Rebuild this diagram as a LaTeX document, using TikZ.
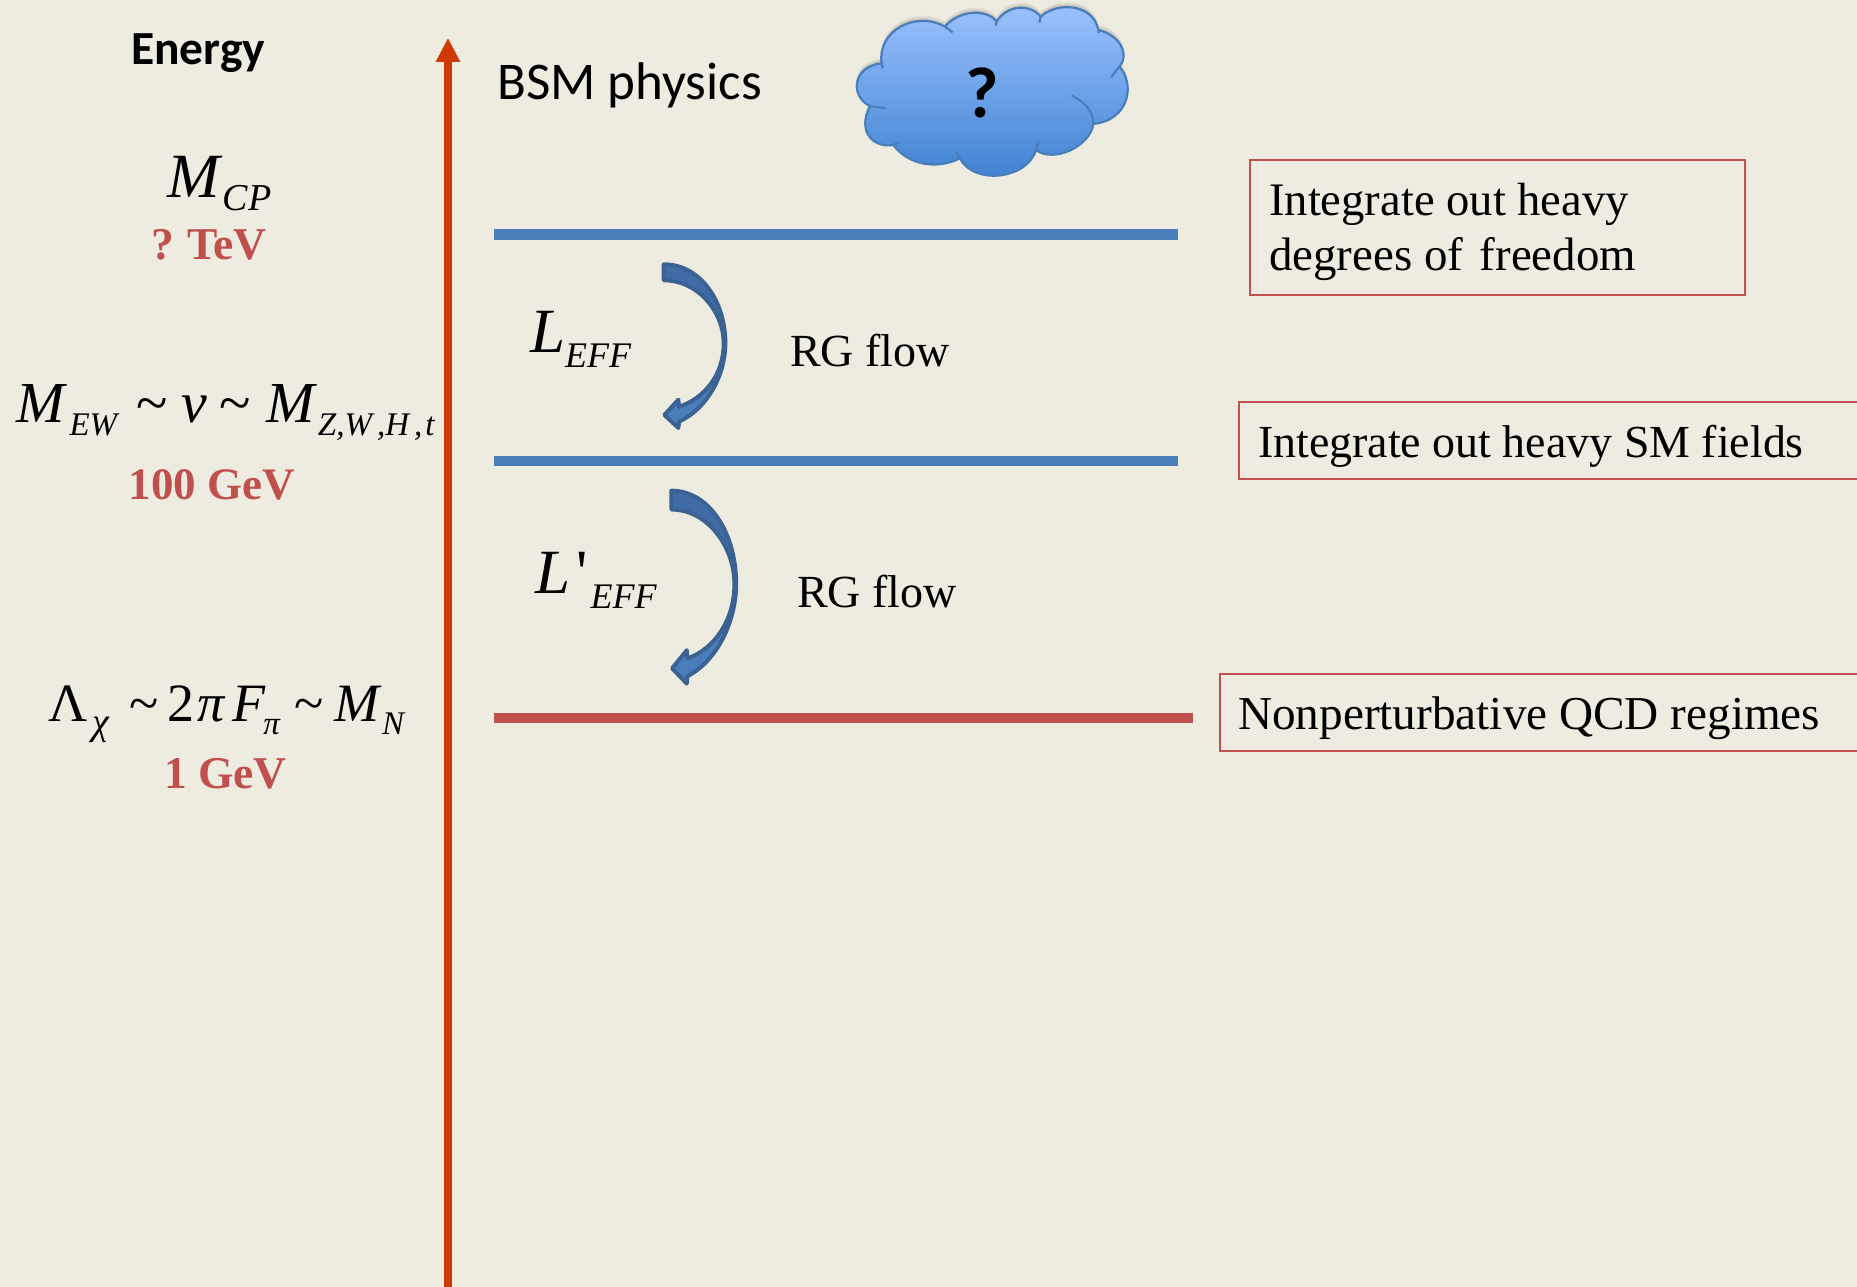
\documentclass[tikz,border=0pt]{standalone}
\usepackage{fontspec}
\setmainfont{Liberation Serif}
\newfontfamily\calib{Carlito}
\newfontfamily\plainserif{Liberation Serif}
\usetikzlibrary{arrows.meta}
\definecolor{bgc}{HTML}{EEECE1}
\definecolor{redc}{HTML}{C0504D}
\definecolor{bluec}{HTML}{4A7EBB}
\definecolor{axisc}{HTML}{D03A00}
\definecolor{darkb}{HTML}{3A6293}
\definecolor{midb}{HTML}{3F6CA6}
\definecolor{cloudtop}{HTML}{9CC3FF}
\definecolor{cloudbot}{HTML}{3C80D0}
\newcommand{\fs}[1]{\fontsize{#1}{#1}\selectfont}
\newcommand{\sbm}[1]{\raisebox{-13pt}{\fs{38}#1}}
\newcommand{\sbs}[1]{\raisebox{-13pt}{\fs{33}#1}}
\newcommand{\sbe}[1]{\raisebox{-15pt}{\fs{36}#1}}
\def\cloudpath{(155,190) .. controls (140,95) and (255,30) .. (345,80)
 .. controls (385,30) and (470,25) .. (500,65)
 .. controls (530,15) and (600,10) .. (632,50)
 .. controls (680,5) and (790,10) .. (805,90)
 .. controls (870,105) and (900,165) .. (868,200)
 .. controls (915,250) and (900,360) .. (790,372)
 .. controls (780,440) and (670,490) .. (618,450)
 .. controls (590,540) and (430,555) .. (390,475)
 .. controls (320,510) and (235,495) .. (190,435)
 .. controls (130,445) and (80,395) .. (120,318)
 .. controls (60,290) and (65,200) .. (155,190) -- cycle}
\def\arrowpath{(6,6) .. controls (115,6) and (191,115) .. (191,243)
 .. controls (191,340) and (135,440) .. (52,478) -- (50,497) -- (8,458) -- (50,412) -- (52,433)
 .. controls (125,410) and (186,340) .. (186,243)
 .. controls (186,150) and (110,54) .. (6,54) -- cycle}
\tikzset{
 x=1pt,y=-1pt,
 boxst/.style={draw=redc,line width=2pt,anchor=north west,inner sep=0pt},
 txt/.style={anchor=base west,inner sep=0pt,text=black},
 redtxt/.style={anchor=base west,inner sep=0pt,text=redc,font=\bfseries\fs{45.5}},
 level/.style={line width=10.5pt},
 curvedarrow/.pic={
  \fill[bluec] \arrowpath;
  \fill[midb] (6,6) .. controls (115,6) and (191,115) .. (191,243) -- (186,243) .. controls (186,150) and (110,54) .. (6,54) -- cycle;
  \draw[darkb,line width=4pt,line join=round] \arrowpath;
 }
}
\begin{document}
\begin{tikzpicture}
\useasboundingbox (0,0) rectangle (1857,1287);
\fill[bgc] (0,0) rectangle (1857,1287);
\clip (0,0) rectangle (1857,1287);
% axis
\coordinate (axb) at (448,1290);
\coordinate (axt) at (448,38);
\draw[axisc,line width=8pt,-{Triangle[length=24pt,width=23pt]}] (axb) -- (axt);
% levels
\coordinate (l1a) at (494,234.5); \coordinate (l1b) at (1178,234.5);
\coordinate (l2a) at (494,461);   \coordinate (l2b) at (1178,461);
\coordinate (l3a) at (494,718);   \coordinate (l3b) at (1193,718);
\draw[level,bluec] (l1a) -- (l1b);
\draw[level,bluec] (l2a) -- (l2b);
\draw[level,redc] (l3a) -- (l3b);
% cloud
\begin{scope}[shift={(830,0)},xscale=1/3,yscale=1/3]
 \foreach \d/\o in {16/.04,12/.05,8/.06,4/.08}{
  \fill[black,opacity=\o] [yshift=\d*1pt] \cloudpath;
 }
 \path[top color=cloudtop,bottom color=cloudbot,draw=none] \cloudpath;
 \draw[bluec,line width=2.2pt,line join=round] \cloudpath
  (155,190) -- (158,205)
  (345,80) -- (368,97)
  (500,65) -- (497,77)
  (632,50) -- (628,68)
  (805,90) -- (806,100)
  (868,200) -- (843,232)
  (790,372) .. controls (790,335) and (765,305) .. (725,287)
  (618,450) -- (625,425)
  (390,475) -- (378,455)
  (190,435) -- (210,425)
  (120,318) -- (168,325);
\end{scope}
\node[anchor=center,inner sep=0pt] (q) at (982,93) {\calib\bfseries\fs{72}?};
% curved arrows
\pic[shift={(661.7,262.3)},xscale=1/3,yscale=1/3] {curvedarrow};
\pic[shift={(669.3,488.3)},xscale=0.35,yscale=0.393] {curvedarrow};
% left labels
\node[txt] (energy) at (131,64.5) {\calib\bfseries\fs{47.5}Energy};
\node[txt] (bsm) at (497,99.5) {\calib\fs{53}BSM physics};
\node[txt] (mcp) at (167,197) {\itshape\fs{63}M\hspace{3pt}\sbm{CP}};
\node[redtxt] (tev) at (151,259) {?\hspace{-2pt} TeV};
\node[txt] (mew) at (16,422) {\itshape\fs{58}M\hspace{5pt}\sbs{EW}\hspace{19pt}\textup{\textasciitilde}\hspace{14pt}v\hspace{12pt}\textup{\textasciitilde}\hspace{16pt}M\hspace{3pt}\sbs{Z,W\hspace{5pt},H\hspace{5pt},\hspace{3pt}t}};
\node[redtxt,font=\bfseries\fs{45}] (gev) at (128.5,499) {100 GeV};
\node[txt] (lam) at (48,721) {\itshape\fs{54}\textup{Λ}\hspace{5pt}\sbm{χ}\hspace{20pt}\textup{\textasciitilde}\hspace{9pt}\textup{2}\hspace{3pt}π\hspace{8pt}F\hspace{-2pt}\sbs{π}\hspace{15pt}\textup{\textasciitilde}\hspace{10pt}M\hspace{3pt}\sbs{N}};
\node[redtxt] (one) at (164,788) {1 GeV};
% middle labels
\node[txt] (leff) at (530,352) {\itshape\fs{63}L\sbe{EFF}};
\node[txt] (lpeff) at (535,593) {\itshape\fs{63}L\hspace{6pt}{\plainserif\upshape\char"27}\hspace{3pt}\sbe{EFF}};
\node[txt] (rg1) at (790,366) {\fs{46}RG flow};
\node[txt] (rg2) at (797,607) {\fs{46}RG flow};
% boxes
\node[boxst,minimum width=495pt,minimum height=135pt] (b1) at (1249,158.5) {};
\node[boxst,minimum width=640pt,minimum height=77pt] (b2) at (1238,400.5) {};
\node[boxst,minimum width=660pt,minimum height=77pt] (b3) at (1219,672.5) {};
\node[txt] (t1a) at (1269,215) {\fs{46.6}Integrate out heavy};
\node[txt] (t1b) at (1269,270) {\fs{46.9}degrees of\hspace{5pt} freedom};
\node[txt] (t2) at (1258,457) {\fs{45.9}Integrate out heavy SM fields};
\node[txt] (t3) at (1238,729) {\fs{47.2}Nonperturbative QCD regimes};
\end{tikzpicture}
\end{document}
